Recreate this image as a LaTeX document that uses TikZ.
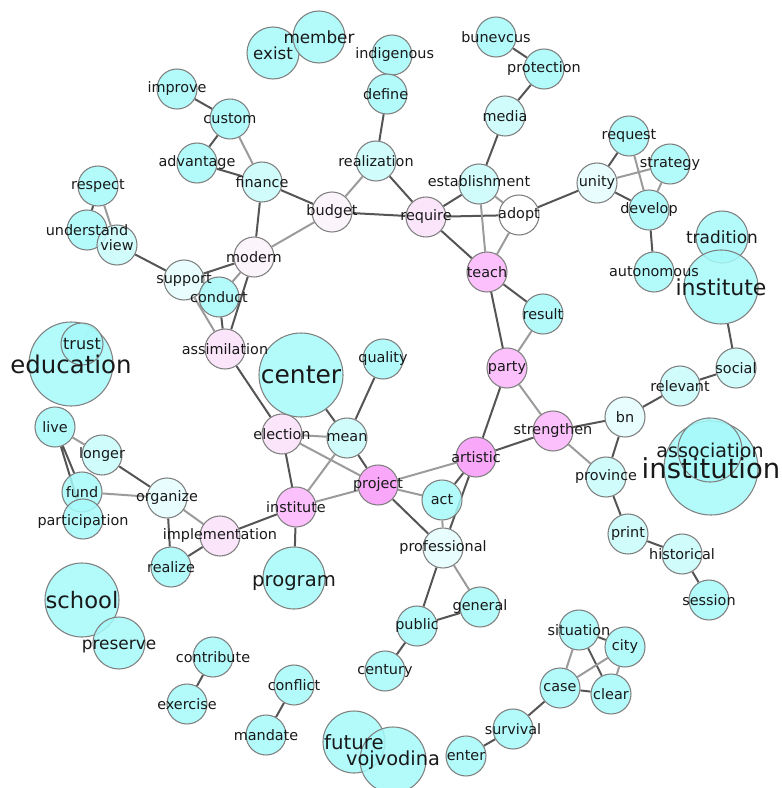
\documentclass[tikz,border=0pt]{standalone}
\usepackage{fontspec}
\setmainfont{DejaVu Sans}

\definecolor{cyA}{RGB}{166,250,250}
\definecolor{cyB}{RGB}{200,252,252}
\definecolor{cyC}{RGB}{228,253,253}
\definecolor{pkA}{RGB}{250,242,250}
\definecolor{pkB}{RGB}{250,225,250}
\definecolor{pkC}{RGB}{252,182,252}
\definecolor{pkD}{RGB}{248,152,248}
\definecolor{rand}{RGB}{128,128,128}
\definecolor{kdunkel}{RGB}{85,85,85}
\definecolor{khell}{RGB}{155,155,155}
\definecolor{schrift}{RGB}{25,25,25}

\newcommand{\schrift}[1]{\fontsize{#1pt}{#1pt}\selectfont}

\pgfdeclarelayer{hinten}
\pgfdeclarelayer{vorne}
\pgfsetlayers{hinten,main,vorne}

\tikzset{
  kreis/.style={circle, draw=rand, line width=0.8pt, fill opacity=0.85,
                inner sep=0pt, minimum size=30pt},
  gr/.style={minimum size=#1*1.5pt},
  cA/.style={kreis, fill=cyA},
  cB/.style={kreis, fill=cyB},
  cC/.style={kreis, fill=cyC},
  cW/.style={kreis, fill=white},
  pA/.style={kreis, fill=pkA},
  pB/.style={kreis, fill=pkB},
  pC/.style={kreis, fill=pkC},
  pD/.style={kreis, fill=pkD},
  kd/.style={draw=kdunkel, line width=1.5pt},
  kh/.style={draw=khell, line width=1.5pt},
  lbl/.style={text=schrift, inner sep=0pt, font=\schrift{10.8}}
}

\begin{document}
\begin{tikzpicture}[x=0.75pt, y=-0.75pt]
    \useasboundingbox (0,0) rectangle (781,788);

    % Knoten oben links
    \node[cA, gr=26] (exist)  at (273,53) {};
    \node[cA, gr=26] (member) at (319,37) {};
    \node[cA] (indigenous)  at (392,55) {};
    \node[cA] (define)      at (387,94) {};
    \node[cA] (improve)     at (177,89) {};
    \node[cA] (custom)      at (230,119) {};
    \node[cA] (advantage)   at (197,163) {};
    \node[cB] (finance)     at (262,182) {};
    \node[cB] (realization) at (376,161) {};
    \node[pA] (budget)      at (332,212) {};
    \node[cA] (respect)     at (98,186) {};
    \node[cA] (understand)  at (87,230) {};
    \node[cB] (view)        at (117,245) {};
    \node[pA] (modern)      at (254,257) {};
    \node[cC] (support)     at (184,280) {};
    \node[cA] (conduct)     at (219,297) {};
    \node[pB] (assimilation) at (225,349) {};

    % Knoten oben rechts
    \node[cA] (bunevcus)      at (496,37) {};
    \node[cA] (protection)    at (544,69) {};
    \node[cB] (media)         at (505,116) {};
    \node[cB] (establishment) at (479,184) {};
    \node[pB] (require)       at (426,217) {};
    \node[cW] (adopt)         at (519,215) {};
    \node[pC] (teach)         at (487,272) {};
    \node[cA] (result)        at (543,314) {};
    \node[pC] (party)         at (507,368) {};
    \node[cC] (unity)         at (597,183) {};
    \node[cA] (request)       at (629,136) {};
    \node[cA] (strategy)      at (670,164) {};
    \node[cA] (develop)       at (649,210) {};
    \node[cA] (autonomous)    at (654,272) {};
    \node[cA, gr=26] (tradition) at (722,237) {};
    \node[cA, gr=37] (institute2) at (721,287) {};
    \node[cB] (social)        at (736,368) {};
    \node[cB] (relevant)      at (680,386) {};

    % Knoten links
    \node[cA, gr=42] (education) at (71,364) {};
    \node[cA, gr=21] (trust)     at (82,344) {};
    \node[cA] (live)          at (55,427) {};
    \node[cB] (longer)        at (102,455) {};
    \node[cA] (fund)          at (82,492) {};
    \node[cA] (participation) at (83,519) {};
    \node[cC] (organize)      at (167,498) {};
    \node[pB] (implementation) at (220,536) {};
    \node[cA] (realize)       at (171,567) {};
    \node[cA, gr=37] (school)   at (82,600) {};
    \node[cA, gr=26] (preserve) at (119,643) {};
    \node[cA] (contribute)    at (213,657) {};
    \node[cA] (exercise)      at (187,704) {};
    \node[cA] (conflict)      at (294,685) {};
    \node[cA] (mandate)       at (266,735) {};
    \node[cA, gr=31] (future)    at (354,742) {};
    \node[cA, gr=33] (vojvodina) at (393,760) {};

    % Knoten Mitte
    \node[cA, gr=42] (center) at (301,375) {};
    \node[cA] (quality)       at (383,359) {};
    \node[pB] (election)      at (282,434) {};
    \node[cB] (mean)          at (347,438) {};
    \node[pD] (project)       at (378,485) {};
    \node[pC] (institute)     at (296,507) {};
    \node[cA, gr=31] (program) at (294,578) {};
    \node[pD] (artistic)      at (476,457) {};
    \node[cA] (act)           at (442,500) {};
    \node[cC] (professional)  at (443,548) {};
    \node[cA] (general)       at (480,607) {};
    \node[cA] (public)        at (417,626) {};
    \node[cA] (century)       at (385,671) {};
    \node[pC] (strengthen)    at (553,431) {};
    \node[cC] (bn)            at (625,417) {};
    \node[cB] (province)      at (606,477) {};
    \node[cA, gr=47] (institution) at (711,468) {};
    \node[cA, gr=32] (association) at (710,450) {};
    \node[cB] (print)         at (628,534) {};
    \node[cB] (historical)    at (682,554) {};
    \node[cA] (session)       at (709,600) {};

    % Knoten unten rechts
    \node[cA] (situation) at (579,630) {};
    \node[cA] (city)      at (625,647) {};
    \node[cA] (case)      at (560,688) {};
    \node[cA] (clear)     at (611,694) {};
    \node[cA] (survival)  at (513,729) {};
    \node[cA] (enter)     at (466,756) {};

    % Kanten
    \begin{pgfonlayer}{hinten}
    \draw[kd] (improve) -- (custom) (custom) -- (advantage)
              (advantage) -- (finance) (finance) -- (budget)
              (finance) -- (modern) (budget) -- (require)
              (realization) -- (define) (realization) -- (require)
              (require) -- (establishment) (require) -- (adopt)
              (require) -- (teach) (establishment) -- (media)
              (media) -- (protection) (protection) -- (bunevcus)
              (adopt) -- (unity) (unity) -- (request) (unity) -- (develop)
              (develop) -- (autonomous);
    \draw[kh] (custom) -- (finance) (budget) -- (modern)
              (budget) -- (realization) (establishment) -- (adopt)
              (establishment) -- (teach) (adopt) -- (teach)
              (unity) -- (strategy) (request) -- (develop)
              (strategy) -- (develop);
    \draw[kd] (institute2) -- (social) (social) -- (relevant)
              (relevant) -- (bn) (bn) -- (strengthen) (bn) -- (province)
              (strengthen) -- (artistic) (teach) -- (result)
              (teach) -- (party) (party) -- (artistic)
              (artistic) -- (act) (artistic) -- (professional)
              (project) -- (professional) (project) -- (mean)
              (professional) -- (public) (public) -- (general)
              (public) -- (century) (mean) -- (quality) (mean) -- (center)
              (election) -- (institute) (election) -- (assimilation)
              (institute) -- (implementation) (institute) -- (program)
              (implementation) -- (realize) (organize) -- (realize)
              (organize) -- (longer) (live) -- (fund)
              (live) -- (participation);
    \draw[kh] (tradition) -- (institute2) (strengthen) -- (province)
              (strengthen) -- (party) (result) -- (party)
              (artistic) -- (project) (project) -- (act)
              (project) -- (election) (project) -- (institute)
              (act) -- (professional) (professional) -- (general)
              (mean) -- (election) (mean) -- (institute)
              (implementation) -- (organize) (organize) -- (fund)
              (live) -- (longer);
    \draw[kd] (assimilation) -- (conduct) (assimilation) -- (modern)
              (support) -- (modern) (support) -- (view)
              (understand) -- (respect) (province) -- (print)
              (print) -- (historical) (historical) -- (session)
              (situation) -- (city) (situation) -- (clear)
              (case) -- (clear) (case) -- (survival)
              (survival) -- (enter) (contribute) -- (exercise)
              (conflict) -- (mandate);
    \draw[kh] (assimilation) -- (support) (conduct) -- (modern)
              (view) -- (respect) (situation) -- (case)
              (city) -- (case) (city) -- (clear)
              (education) -- (trust) (association) -- (institution);
    \end{pgfonlayer}

    % Beschriftungen
    \begin{pgfonlayer}{vorne}
    \node[lbl, font=\schrift{12.5}] at (exist) {exist};
    \node[lbl, font=\schrift{12.6}] at (member) {member};
    \node[lbl] at ([xshift=2]indigenous) {indigenous};
    \node[lbl] at ([xshift=-1]define) {define};
    \node[lbl] at (improve) {improve};
    \node[lbl] at (custom) {custom};
    \node[lbl] at (advantage) {advantage};
    \node[lbl] at (finance) {finance};
    \node[lbl] at (realization) {realization};
    \node[lbl] at (budget) {budget};
    \node[lbl] at (respect) {respect};
    \node[lbl] at (understand) {understand};
    \node[lbl] at (view) {view};
    \node[lbl] at (modern) {modern};
    \node[lbl] at (support) {support};
    \node[lbl] at (conduct) {conduct};
    \node[lbl] at (assimilation) {assimilation};
    \node[lbl] at (bunevcus) {bunevcus};
    \node[lbl] at (protection) {protection};
    \node[lbl] at (media) {media};
    \node[lbl] at ([yshift=2]establishment) {establishment};
    \node[lbl] at (require) {require};
    \node[lbl] at (adopt) {adopt};
    \node[lbl] at (teach) {teach};
    \node[lbl] at (result) {result};
    \node[lbl] at (party) {party};
    \node[lbl] at (unity) {unity};
    \node[lbl] at (request) {request};
    \node[lbl] at (strategy) {strategy};
    \node[lbl] at (develop) {develop};
    \node[lbl] at (autonomous) {autonomous};
    \node[lbl, font=\schrift{12.7}] at (tradition) {tradition};
    \node[lbl, font=\schrift{16.5}] at (institute2) {institute};
    \node[lbl] at (social) {social};
    \node[lbl] at (relevant) {relevant};
    \node[lbl, font=\schrift{18.3}] at (education) {education};
    \node[lbl, font=\schrift{12}] at (trust) {trust};
    \node[lbl] at (live) {live};
    \node[lbl] at (longer) {longer};
    \node[lbl] at (fund) {fund};
    \node[lbl] at ([yshift=-2]participation) {participation};
    \node[lbl] at (organize) {organize};
    \node[lbl] at (implementation) {implementation};
    \node[lbl] at (realize) {realize};
    \node[lbl, font=\schrift{17}] at (school) {school};
    \node[lbl, font=\schrift{12.7}] at ([yshift=-3]preserve) {preserve};
    \node[lbl] at (contribute) {contribute};
    \node[lbl] at (exercise) {exercise};
    \node[lbl] at (conflict) {conflict};
    \node[lbl] at (mandate) {mandate};
    \node[lbl, font=\schrift{14.8}] at (future) {future};
    \node[lbl, font=\schrift{14.5}] at (vojvodina) {vojvodina};
    \node[lbl, font=\schrift{18.7}] at (center) {center};
    \node[lbl] at (quality) {quality};
    \node[lbl] at (election) {election};
    \node[lbl] at (mean) {mean};
    \node[lbl] at (project) {project};
    \node[lbl] at (institute) {institute};
    \node[lbl, font=\schrift{14.7}] at ([yshift=-4]program) {program};
    \node[lbl] at (artistic) {artistic};
    \node[lbl] at (act) {act};
    \node[lbl] at (professional) {professional};
    \node[lbl] at (general) {general};
    \node[lbl] at (public) {public};
    \node[lbl] at (century) {century};
    \node[lbl] at (strengthen) {strengthen};
    \node[lbl] at (bn) {bn};
    \node[lbl] at (province) {province};
    \node[lbl, font=\schrift{14.3}] at (association) {association};
    \node[lbl, font=\schrift{20.6}] at (institution) {institution};
    \node[lbl] at (print) {print};
    \node[lbl] at (historical) {historical};
    \node[lbl] at (session) {session};
    \node[lbl] at (situation) {situation};
    \node[lbl] at (city) {city};
    \node[lbl] at (case) {case};
    \node[lbl] at (clear) {clear};
    \node[lbl] at (survival) {survival};
    \node[lbl] at (enter) {enter};
    \end{pgfonlayer}

\end{tikzpicture}
\end{document}
